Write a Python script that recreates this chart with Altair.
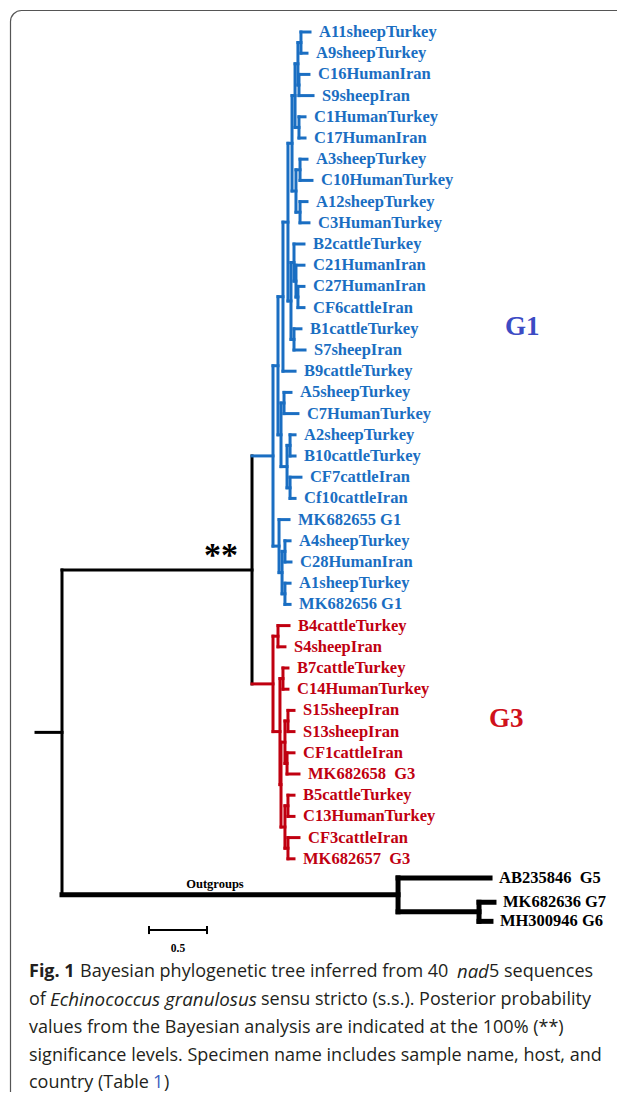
import altair as alt
import pandas as pd

# ---------------- tree data ----------------
leaf_names = [
    "A11sheepTurkey", "A9sheepTurkey", "C16HumanIran", "S9sheepIran", "C1HumanTurkey",
    "C17HumanIran", "A3sheepTurkey", "C10HumanTurkey", "A12sheepTurkey", "C3HumanTurkey",
    "B2cattleTurkey", "C21HumanIran", "C27HumanIran", "CF6cattleIran", "B1cattleTurkey",
    "S7sheepIran", "B9cattleTurkey", "A5sheepTurkey", "C7HumanTurkey", "A2sheepTurkey",
    "B10cattleTurkey", "CF7cattleIran", "Cf10cattleIran", "MK682655 G1", "A4sheepTurkey",
    "C28HumanIran", "A1sheepTurkey", "MK682656 G1",
    "B4cattleTurkey", "S4sheepIran", "B7cattleTurkey", "C14HumanTurkey", "S15sheepIran",
    "S13sheepIran", "CF1cattleIran", "MK682658\u00a0 G3", "B5cattleTurkey", "C13HumanTurkey",
    "CF3cattleIran", "MK682657\u00a0 G3",
    "AB235846\u00a0 G5", "MK682636 G7", "MH300946 G6",
]
# tip positions (substitutions / site, measured from the root)
leaf_tip = [
    2.138, 2.112, 2.129, 2.164, 2.095, 2.095, 2.112, 2.155, 2.112, 2.129,
    2.086, 2.086, 2.086, 2.086, 2.060, 2.095, 2.009, 1.974, 2.034, 2.009,
    2.009, 2.060, 2.009, 1.957, 1.966, 1.974, 1.966, 1.966,
    1.957, 1.922, 1.948, 1.948, 2.000, 2.000, 2.000, 2.043, 2.000, 2.000,
    2.043, 2.000,
    3.690, 3.724, 3.698,
]
# vertical row of each tip
leaf_row = [
    0, 1, 2, 3, 4, 5, 6, 7, 8, 9, 10, 11, 12, 13, 14, 15, 16, 17, 18, 19,
    20, 21, 22, 23, 24, 25, 26, 27, 28, 29, 30, 31, 32, 33, 34, 35, 36, 37,
    38, 39, 39.9, 41.05, 41.95,
]
leaf_clade = ["G1"] * 28 + ["G3"] * 12 + ["out"] * 3

# internal nodes: name, depth, children, clade
node_names = [
    "root", "IG", "OG", "M",
    "BR", "U", "T", "T1", "T2", "T2a", "n298", "nA11", "nC16", "nC1", "T2b", "nA3", "nA12",
    "T3", "T3a", "nC21", "nC27", "T3b", "U2", "U2a", "U2b", "nA2", "nCF7",
    "C1", "C2", "C3", "C4",
    "R", "R1", "R2", "R2a", "R2b", "R2b1", "nS15", "nCF1", "R2b2", "nB5", "nCF3",
]
node_x = [
    0.000, 1.638, 2.897, 3.595,
    1.819, 1.862, 1.905, 1.948, 1.983, 2.009, 2.034, 2.060, 2.043, 2.043, 2.017, 2.052, 2.052,
    1.974, 2.000, 2.017, 2.034, 2.000, 1.888, 1.914, 1.940, 1.966, 1.966,
    1.871, 1.897, 1.922, 1.922,
    1.819, 1.862, 1.879, 1.905, 1.888, 1.922, 1.948, 1.940, 1.922, 1.948, 1.948,
]
node_kids = [
    "IG|OG", "BR|R", "AB235846\u00a0 G5|M", "MK682636 G7|MH300946 G6",
    "U|C1", "T|U2", "T1|B9cattleTurkey", "T2|T3", "T2a|T2b", "n298|nC1", "nA11|nC16",
    "A11sheepTurkey|A9sheepTurkey", "C16HumanIran|S9sheepIran", "C1HumanTurkey|C17HumanIran",
    "nA3|nA12", "A3sheepTurkey|C10HumanTurkey", "A12sheepTurkey|C3HumanTurkey",
    "T3a|T3b", "B2cattleTurkey|nC21", "C21HumanIran|nC27", "C27HumanIran|CF6cattleIran",
    "B1cattleTurkey|S7sheepIran", "U2a|U2b", "A5sheepTurkey|C7HumanTurkey", "nA2|nCF7",
    "A2sheepTurkey|B10cattleTurkey", "CF7cattleIran|Cf10cattleIran",
    "MK682655 G1|C2", "C3|C4", "A4sheepTurkey|C28HumanIran", "A1sheepTurkey|MK682656 G1",
    "R1|R2", "B4cattleTurkey|S4sheepIran", "R2a|R2b", "B7cattleTurkey|C14HumanTurkey",
    "R2b1|R2b2", "nS15|nCF1", "S15sheepIran|S13sheepIran", "CF1cattleIran|MK682658\u00a0 G3",
    "nB5|nCF3", "B5cattleTurkey|C13HumanTurkey", "CF3cattleIran|MK682657\u00a0 G3",
]
node_clade = ["root", "root", "out", "out"] + ["G1"] * 27 + ["G3"] * 11
root_stem_x = -0.224

clade_color = {"G1": "#1a6ec2", "G3": "#c00010", "root": "#000000", "out": "#000000"}
clade_width = {"G1": 3.0, "G3": 3.0, "root": 3.0, "out": 5.0}

# scale bar
scale_bar_x = [0.75, 1.25]
scale_bar_row = 42.36
scale_bar_label = "0.5"

# ---------------- build geometry tables ----------------
pos_x = {n: x for n, x in zip(leaf_names, leaf_tip)}
pos_x.update({n: x for n, x in zip(node_names, node_x)})
clade_of = {n: c for n, c in zip(leaf_names, leaf_clade)}
clade_of.update({n: c for n, c in zip(node_names, node_clade)})
kids_of = {n: k.split("|") for n, k in zip(node_names, node_kids)}
row_of = {n: r for n, r in zip(leaf_names, leaf_row)}


def row(n):
    if n in row_of:
        return row_of[n]
    ys = [row(k) for k in kids_of[n]]
    r = (min(ys) + max(ys)) / 2
    row_of[n] = r
    return r


segs = []
for n in node_names:
    ys = [row(k) for k in kids_of[n]]
    c = clade_of[n]
    segs.append(dict(x=pos_x[n], x2=pos_x[n], y=min(ys), y2=max(ys),
                     col=clade_color[c], w=clade_width[c]))
    for k in kids_of[n]:
        ck = clade_of[k]
        segs.append(dict(x=pos_x[n], x2=pos_x[k], y=row(k), y2=row(k),
                         col=clade_color[ck], w=clade_width[ck]))
segs.append(dict(x=root_stem_x, x2=0.0, y=row("root"), y2=row("root"),
                 col="#000000", w=3.0))
seg_df = pd.DataFrame(segs)

leaf_df = pd.DataFrame({
    "name": leaf_names, "x": leaf_tip, "y": leaf_row,
    "col": [clade_color[c] for c in leaf_clade],
})

bar_df = pd.DataFrame({"x": [scale_bar_x[0]], "x2": [scale_bar_x[1]],
                       "y": [scale_bar_row], "y2": [scale_bar_row]})
tick_df = pd.DataFrame({"x": scale_bar_x, "y": [scale_bar_row - 0.19] * 2,
                        "y2": [scale_bar_row + 0.19] * 2})
bar_lab_df = pd.DataFrame({"x": [sum(scale_bar_x) / 2], "y": [scale_bar_row + 0.9],
                           "t": [scale_bar_label]})

W, H = 609, 1084
xs = alt.Scale(domain=[-0.4655, 4.7845], nice=False, zero=False)
ys = alt.Scale(domain=[-1.1321, 50.0], reverse=True, nice=False, zero=False)
X = lambda f: alt.X(f, type="quantitative", scale=xs, axis=None)
Y = lambda f: alt.Y(f, type="quantitative", scale=ys, axis=None)

serif = "Liberation Serif"

branches = alt.Chart(seg_df).mark_rule(strokeCap="square").encode(
    x=X("x"), x2="x2", y=Y("y"), y2="y2",
    color=alt.Color("col:N", scale=None),
    strokeWidth=alt.StrokeWidth("w:Q", scale=None),
)

labels = alt.Chart(leaf_df).mark_text(
    align="left", baseline="middle", dx=9, font=serif, fontWeight="bold", fontSize=16.5
).encode(x=X("x"), y=Y("y"), text="name:N", color=alt.Color("col:N", scale=None))

bar = alt.Chart(bar_df).mark_rule(color="black", strokeWidth=2).encode(
    x=X("x"), x2="x2", y=Y("y"), y2="y2")
ticks = alt.Chart(tick_df).mark_rule(color="black", strokeWidth=2).encode(
    x=X("x"), y=Y("y"), y2="y2")
bar_lab = alt.Chart(bar_lab_df).mark_text(
    font=serif, fontWeight="bold", fontSize=11.5, color="black", baseline="middle"
).encode(x=X("x"), y=Y("y"), text="t:N")


def note(text, px, py, size, color="black", font=serif, weight="bold", style="normal",
         align="left", baseline="middle"):
    return alt.Chart(pd.DataFrame({"t": [text]})).mark_text(
        font=font, fontSize=size, fontWeight=weight, fontStyle=style, color=color,
        align=align, baseline=baseline
    ).encode(text="t:N", x=alt.value(px - 8), y=alt.value(py - 8))


notes = [
    note("G1", 505, 327, 27, color="#3c4bc4"),
    note("G3", 489, 719, 27, color="#d0111b"),
    note("**", 221, 566, 34, align="center", baseline="alphabetic"),
    note("Outgroups", 215, 884, 12.5, align="center"),
]

cap_font = "Open Sans"
cap_col = "#231f20"
caption = [
    ("Fig. 1", 29, 972, "bold", "normal", cap_col, 18),
    ("Bayesian phylogenetic tree inferred from 40", 80, 972, "normal", "normal", cap_col, 18),
    ("nad", 457, 972, "normal", "italic", cap_col, 18.5),
    ("5 sequences", 489, 972, "normal", "normal", cap_col, 18),
    ("of", 29, 1000, "normal", "normal", cap_col, 18),
    ("Echinococcus granulosus", 50, 1000, "normal", "italic", cap_col, 18.8),
    ("sensu stricto (s.s.). Posterior probability", 261, 1000, "normal", "normal", cap_col, 18),
    ("values from the Bayesian analysis are indicated at the 100% (**)", 29, 1028,
     "normal", "normal", cap_col, 18),
    ("significance levels. Specimen name includes sample name, host, and", 29, 1056,
     "normal", "normal", cap_col, 18),
    ("country (Table", 29, 1083, "normal", "normal", cap_col, 18),
    ("1", 153, 1083, "normal", "normal", "#3b5fc0", 18),
    (")", 164, 1083, "normal", "normal", cap_col, 18),
]
cap_layers = [note(t, px, py, sz, color=c, font=cap_font, weight=w, style=s)
              for t, px, py, w, s, c, sz in caption]

frame = alt.Chart(pd.DataFrame({"a": [0]})).mark_rect(
    filled=False, stroke="#555555", strokeWidth=1.2, cornerRadius=11
).encode(x=alt.value(2.5), x2=alt.value(700), y=alt.value(2.5), y2=alt.value(1200))

chart = alt.layer(
    frame, branches, labels, bar, ticks, bar_lab, *notes, *cap_layers
).properties(
    width=W, height=H, padding=0, autosize=alt.AutoSizeParams(type="none")
).configure_view(stroke=None)

chart.save("out.html", embed_options={"renderer": "svg", "actions": False})
